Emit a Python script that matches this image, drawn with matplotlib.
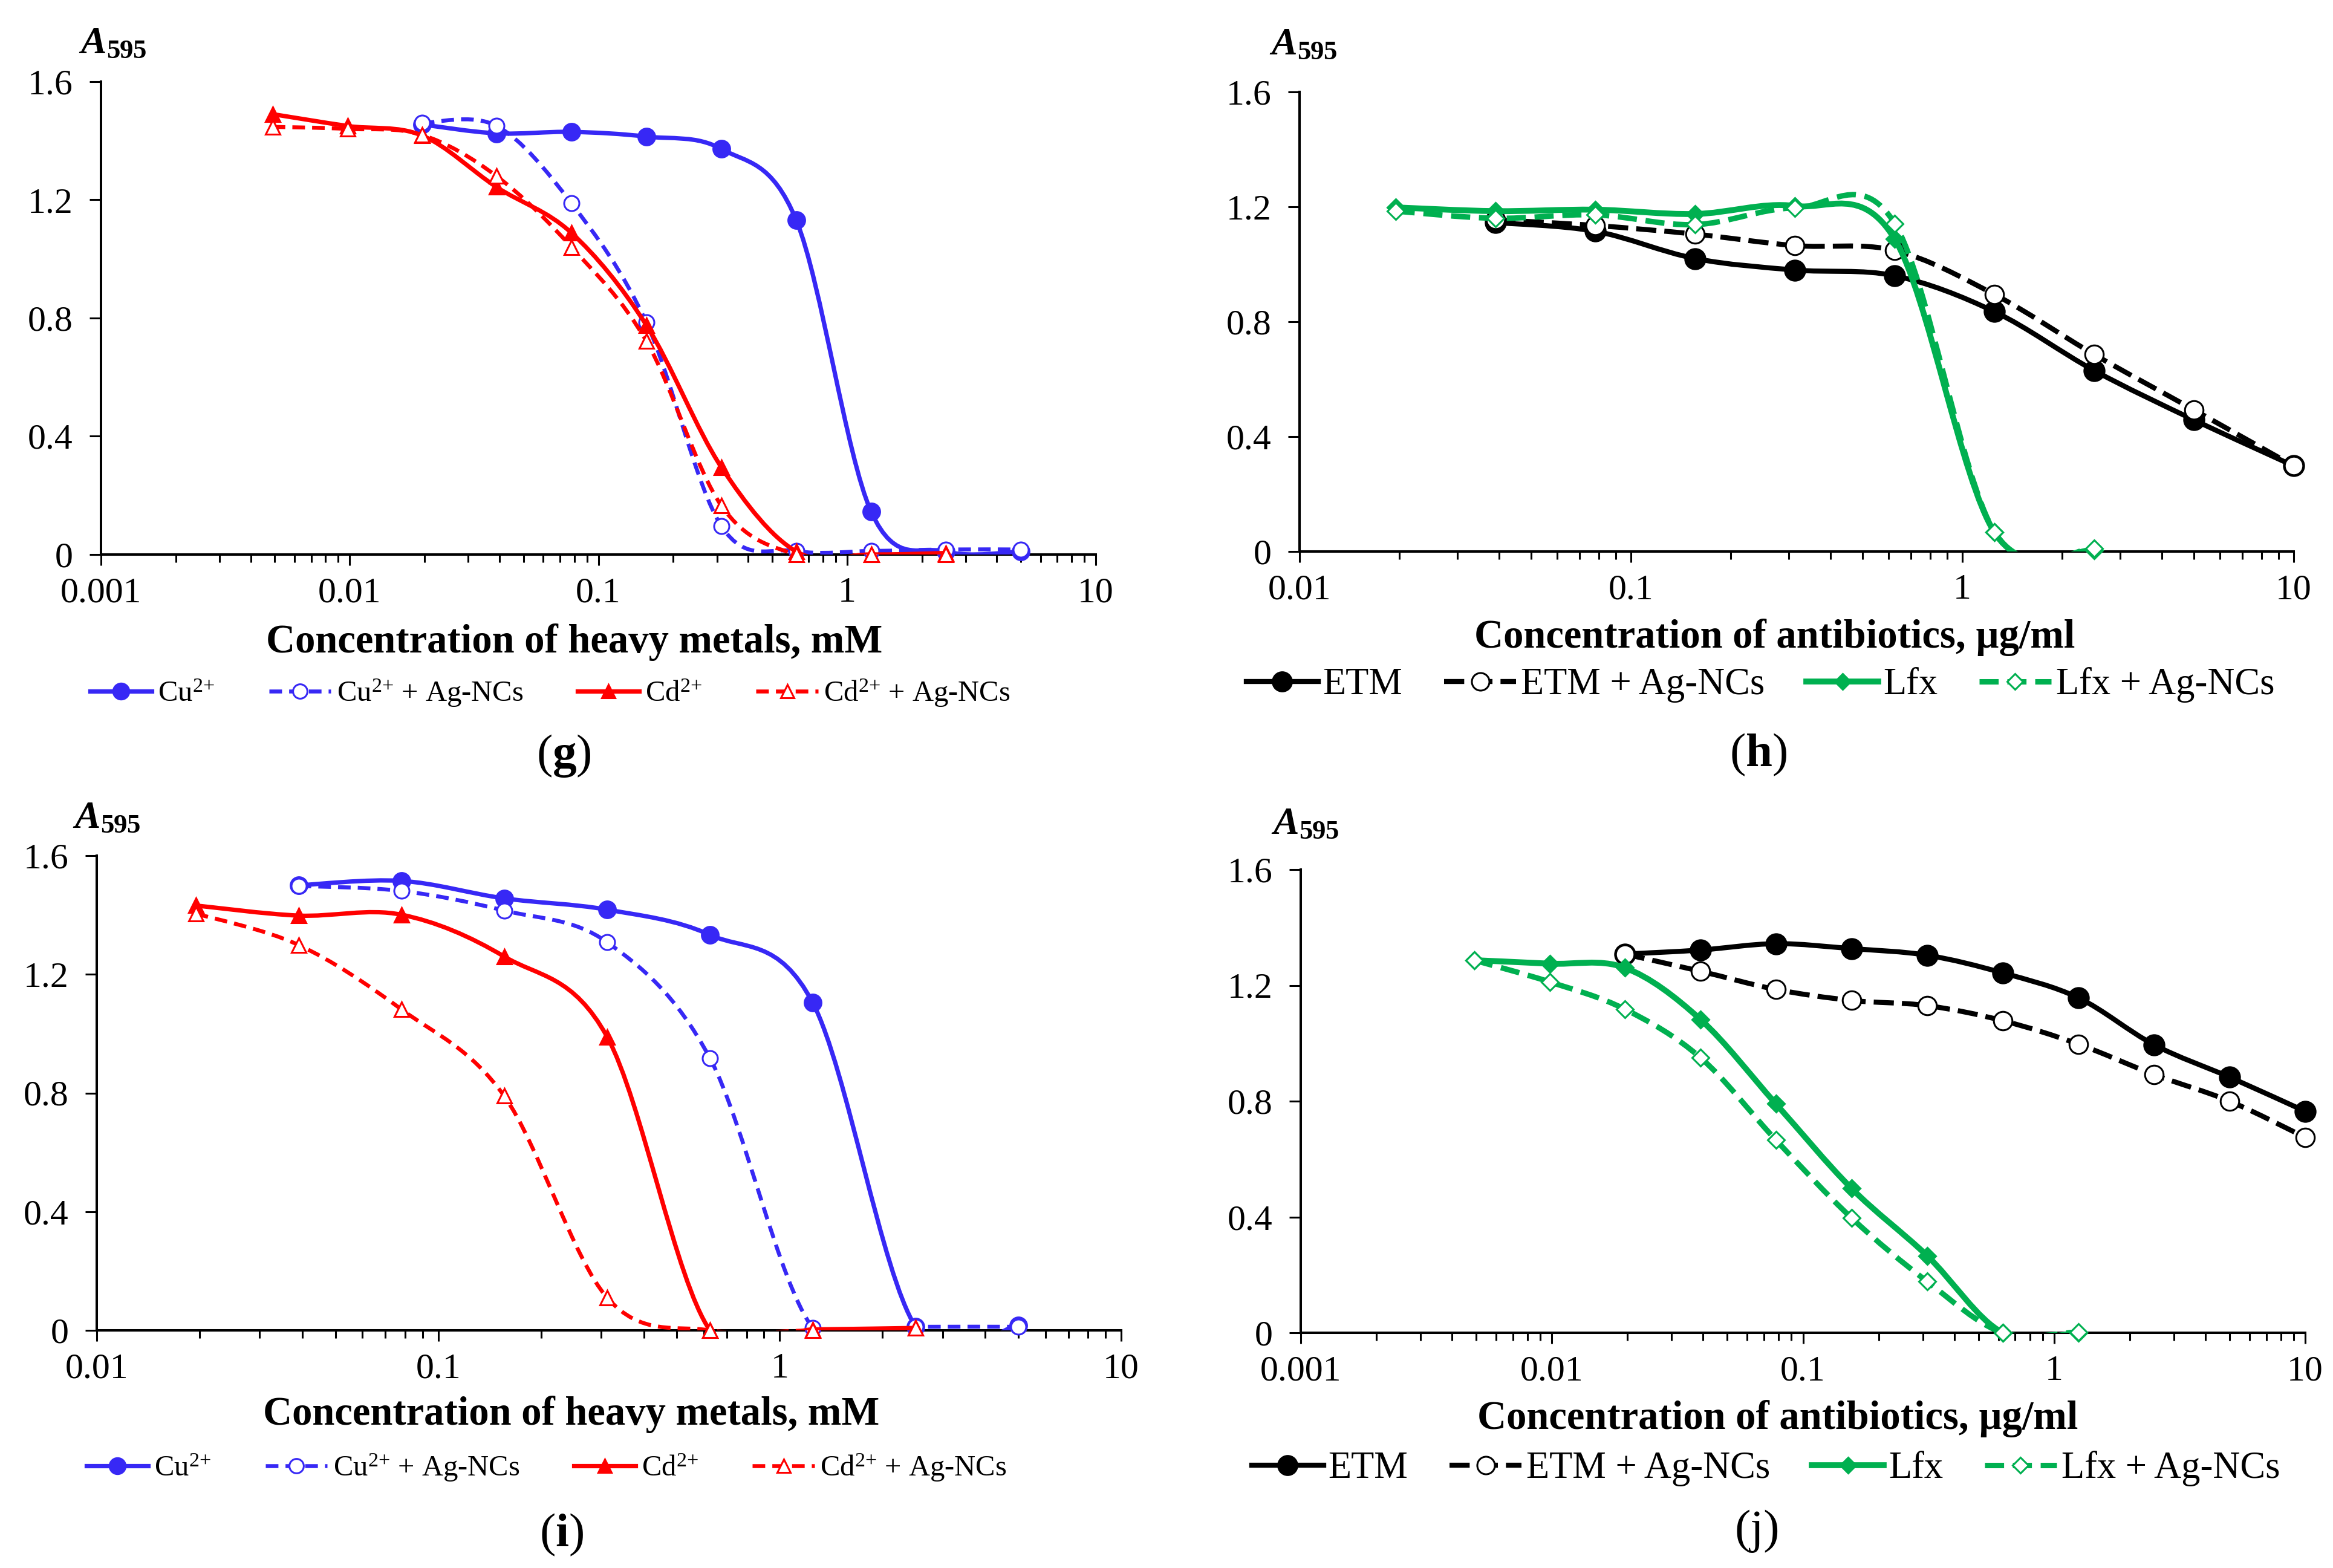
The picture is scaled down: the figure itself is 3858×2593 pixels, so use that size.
import numpy as np
import matplotlib.pyplot as plt
from matplotlib.path import Path
from matplotlib.patches import PathPatch
from matplotlib.lines import Line2D
from matplotlib.ticker import FuncFormatter, NullFormatter, LogLocator, MultipleLocator

plt.rcParams['font.family'] = ['Liberation Serif', 'DejaVu Serif']
plt.rcParams['mathtext.fontset'] = 'custom'
plt.rcParams['mathtext.rm'] = 'Liberation Serif'
plt.rcParams['mathtext.it'] = 'Liberation Serif:italic'
plt.rcParams['mathtext.bf'] = 'Liberation Serif:bold'
plt.rcParams['mathtext.bfit'] = 'Liberation Serif:italic:bold'

# ---- data ----
# (g) heavy metals
g_x_cu = [0.0195, 0.039, 0.078, 0.156, 0.3125, 0.625, 1.25, 2.5, 5]
g_cu = [1.455, 1.425, 1.43, 1.414, 1.372, 1.131, 0.145, 0.01, 0.01]
g_cu_ag = [1.46, 1.45, 1.188, 0.785, 0.096, 0.012, 0.012, 0.017, 0.017]
g_x_cd = [0.0049, 0.0098, 0.0195, 0.039, 0.078, 0.156, 0.3125, 0.625, 1.25, 2.5]
g_cd = [1.49, 1.45, 1.418, 1.243, 1.088, 0.776, 0.295, 0.01, 0.0, 0.005]
g_cd_ag = [1.447, 1.44, 1.42, 1.28, 1.04, 0.722, 0.165, 0.0, 0.0, 0.0]

# (h) antibiotics
h_x_etm = [0.039, 0.078, 0.156, 0.3125, 0.625, 1.25, 2.5, 5, 10]
h_etm = [1.145, 1.115, 1.02, 0.98, 0.96, 0.835, 0.63, 0.458, 0.298]
h_etm_ag = [1.155, 1.135, 1.105, 1.065, 1.048, 0.895, 0.686, 0.493, 0.298]
h_x_lfx = [0.0195, 0.039, 0.078, 0.156, 0.3125, 0.625, 1.25, 2.5]
h_lfx = [1.198, 1.185, 1.19, 1.175, 1.203, 1.088, 0.067, 0.005]
h_lfx_ag = [1.185, 1.16, 1.172, 1.138, 1.196, 1.142, 0.068, 0.01]

# (i) heavy metals
i_x_cu = [0.039, 0.078, 0.156, 0.3125, 0.625, 1.25, 2.5, 5]
i_cu = [1.50, 1.515, 1.456, 1.418, 1.333, 1.104, 0.012, 0.017]
i_cu_ag = [1.498, 1.481, 1.415, 1.308, 0.917, 0.008, 0.012, 0.012]
i_x_cd = [0.0195, 0.039, 0.078, 0.156, 0.3125, 0.625, 1.25, 2.5]
i_cd = [1.432, 1.398, 1.401, 1.26, 0.989, 0.0, 0.003, 0.008]
i_cd_ag = [1.405, 1.299, 1.082, 0.79, 0.11, 0.0, 0.0, 0.008]

# (j) antibiotics
j_x_etm = [0.0195, 0.039, 0.078, 0.156, 0.3125, 0.625, 1.25, 2.5, 5, 10]
j_etm = [1.308, 1.322, 1.344, 1.327, 1.304, 1.243, 1.157, 0.995, 0.883, 0.765]
j_etm_ag = [1.308, 1.249, 1.186, 1.148, 1.13, 1.078, 0.997, 0.892, 0.80, 0.675]
j_x_lfx = [0.0049, 0.0098, 0.0195, 0.039, 0.078, 0.156, 0.3125, 0.625, 1.25]
j_lfx = [1.287, 1.275, 1.261, 1.083, 0.791, 0.499, 0.266, 0.0, 0.0]
j_lfx_ag = [1.287, 1.212, 1.118, 0.951, 0.666, 0.397, 0.177, 0.0, 0.003]

metal_labels = [r'Cu$^{2{+}}$', r'Cu$^{2{+}}$ + Ag-NCs', r'Cd$^{2{+}}$', r'Cd$^{2{+}}$ + Ag-NCs']
abx_labels = ['ETM', 'ETM + Ag-NCs', 'Lfx', 'Lfx + Ag-NCs']

BLUE = '#3728F5'
RED = '#FF0000'
GREEN = '#00B050'
BLACK = '#000000'

metal_styles = [
    dict(color=BLUE, lw=5.2, dash=None, marker='o', ms=20, filled=True),
    dict(color=BLUE, lw=4.7, dash=(3.2, 1.8), marker='o', ms=18, filled=False),
    dict(color=RED, lw=5.2, dash=None, marker='^', ms=17, filled=True),
    dict(color=RED, lw=4.7, dash=(3.2, 1.8), marker='^', ms=17, filled=False),
]
abx_styles = [
    dict(color=BLACK, lw=6.0, dash=None, marker='o', ms=24, filled=True),
    dict(color=BLACK, lw=6.0, dash=(4.0, 1.6), marker='o', ms=22, filled=False),
    dict(color=GREEN, lw=7.0, dash=None, marker='D', ms=14, filled=True),
    dict(color=GREEN, lw=6.5, dash=(3.5, 1.6), marker='D', ms=14, filled=False),
]

W, H = 3858, 2593
fig = plt.figure(figsize=(W / 100, H / 100), dpi=100)


def px_axes(l, t, r, b):
    return fig.add_axes([l / W, 1 - b / H, (r - l) / W, (b - t) / H])


def smooth_line(ax, x, y, st, z):
    # Excel-like smoothed line: cubic Bezier segments through the points,
    # control points computed in screen space (log x)
    lx0, lx1 = np.log10(ax.get_xlim())
    y0, y1 = ax.get_ylim()
    bw, bh = ax.bbox.width, ax.bbox.height
    u = (np.log10(x) - lx0) / (lx1 - lx0) * bw
    v = (np.asarray(y) - y0) / (y1 - y0) * bh
    p = np.column_stack([u, v])
    n = len(p)
    verts = [p[0]]
    codes = [Path.MOVETO]
    for k in range(n - 1):
        pa = p[k - 1] if k > 0 else p[k]
        pd = p[k + 2] if k + 2 < n else p[k + 1]
        c1 = p[k] + (p[k + 1] - pa) / 6
        c2 = p[k + 1] - (pd - p[k]) / 6
        verts += [c1, c2, p[k + 1]]
        codes += [Path.CURVE4] * 3
    verts = np.array(verts)
    xs = 10 ** (lx0 + verts[:, 0] / bw * (lx1 - lx0))
    ys = y0 + verts[:, 1] / bh * (y1 - y0)
    ls = '-' if st['dash'] is None else (0, st['dash'])
    patch = PathPatch(Path(np.column_stack([xs, ys]), codes), fill=False,
                      edgecolor=st['color'], lw=st['lw'], linestyle=ls,
                      capstyle='butt', joinstyle='round', zorder=z)
    ax.add_patch(patch)
    ax.plot(x, y, ls='none', marker=st['marker'], ms=st['ms'],
            mfc=st['color'] if st['filled'] else 'white', mec=st['color'],
            mew=2.2, clip_on=False, zorder=z + 0.5)


def handle(st):
    ls = '-' if st['dash'] is None else (0, st['dash'])
    return Line2D([], [], color=st['color'], lw=st['lw'], ls=ls,
                  marker=st['marker'], ms=st['ms'] * 0.95,
                  mfc=st['color'] if st['filled'] else 'white',
                  mec=st['color'], mew=2.2, dash_capstyle='butt')


def style_axes(ax, xmin):
    ax.set_xscale('log')
    ax.set_xlim(xmin, 10)
    ax.set_ylim(0, 1.6)
    ax.set_autoscale_on(False)
    for s in ['top', 'right']:
        ax.spines[s].set_visible(False)
    for s in ['left', 'bottom']:
        ax.spines[s].set_linewidth(2.9)
    ax.yaxis.set_major_locator(MultipleLocator(0.4))
    ax.yaxis.set_major_formatter(FuncFormatter(lambda v, p: '%g' % round(v, 1)))
    ax.xaxis.set_major_locator(LogLocator(base=10))
    ax.xaxis.set_minor_locator(LogLocator(base=10, subs=np.arange(2, 10)))
    ax.xaxis.set_major_formatter(FuncFormatter(lambda v, p: '%g' % v))
    ax.xaxis.set_minor_formatter(NullFormatter())
    ax.tick_params(axis='y', which='major', length=13.5, width=2.2, pad=20, labelsize=43)
    ax.tick_params(axis='x', which='major', length=13, width=2.2, pad=14, labelsize=43)
    ax.tick_params(axis='x', which='minor', length=9, width=2.2)


panels = [
    # letter, rect, xmin, series, styles, labels, xlabel, legend font, bold letter,
    # xlabel / legend / letter / A595 positions in pixels
    ('g', (167, 135, 1812, 917), 0.001,
     [(g_x_cu, g_cu), (g_x_cu, g_cu_ag), (g_x_cd, g_cd), (g_x_cd, g_cd_ag)],
     metal_styles, metal_labels, 'Concentration of heavy metals, mM', 35, True,
     (950, 1079), (910, 1146), (932, 1250), (130, 88)),
    ('h', (2149, 152, 3793, 912), 0.01,
     [(h_x_etm, h_etm), (h_x_etm, h_etm_ag), (h_x_lfx, h_lfx), (h_x_lfx, h_lfx_ag)],
     abx_styles, abx_labels, 'Concentration of antibiotics, µg/ml', 45, True,
     (2935, 1071), (2911, 1133), (2908, 1248), (2099, 90)),
    ('i', (160, 1415, 1854, 2200), 0.01,
     [(i_x_cu, i_cu), (i_x_cu, i_cu_ag), (i_x_cd, i_cd), (i_x_cd, i_cd_ag)],
     metal_styles, metal_labels, 'Concentration of heavy metals, mM', 35, True,
     (945, 2356), (904, 2427), (929, 2538), (120, 1369)),
    ('j', (2151, 1438, 3812, 2204), 0.001,
     [(j_x_etm, j_etm), (j_x_etm, j_etm_ag), (j_x_lfx, j_lfx), (j_x_lfx, j_lfx_ag)],
     abx_styles, abx_labels, 'Concentration of antibiotics, µg/ml', 45, False,
     (2940, 2363), (2920, 2429), (2906, 2532), (2102, 1379)),
]

for (letter, rect, xmin, series, styles, labels, xlabel, lfs, bold,
     xl_pos, leg_pos, let_pos, a_pos) in panels:
    ax = px_axes(*rect)
    style_axes(ax, xmin)
    for k, ((xs, ys), st) in enumerate(zip(series, styles)):
        smooth_line(ax, xs, ys, st, 3 + k)
    fig.text(xl_pos[0] / W, 1 - xl_pos[1] / H, xlabel, ha='center', va='baseline',
             fontsize=48, fontweight='bold')
    fig.text(a_pos[0] / W, 1 - a_pos[1] / H, r'$\mathbfit{A}_{\mathbf{595}}$',
             ha='left', va='baseline', fontsize=46)
    lab = '(' + (r'$\mathbf{%s}$' % letter if bold else letter) + ')'
    fig.text(let_pos[0] / W, 1 - let_pos[1] / H, lab, ha='center', va='center', fontsize=57)
    if lfs == 35:
        hl, cs, tp = 2.1, 1.85, 0.2
    else:
        hl, cs, tp = 1.9, 1.1, 0.13
    ax.legend([handle(st) for st in styles], labels, loc='center',
              bbox_to_anchor=(leg_pos[0] / W, 1 - leg_pos[1] / H),
              bbox_transform=fig.transFigure, ncol=4, frameon=False,
              fontsize=lfs, handlelength=hl, handletextpad=tp,
              columnspacing=cs, borderpad=0, borderaxespad=0)

fig.savefig('out.png', dpi=100, facecolor='white')
